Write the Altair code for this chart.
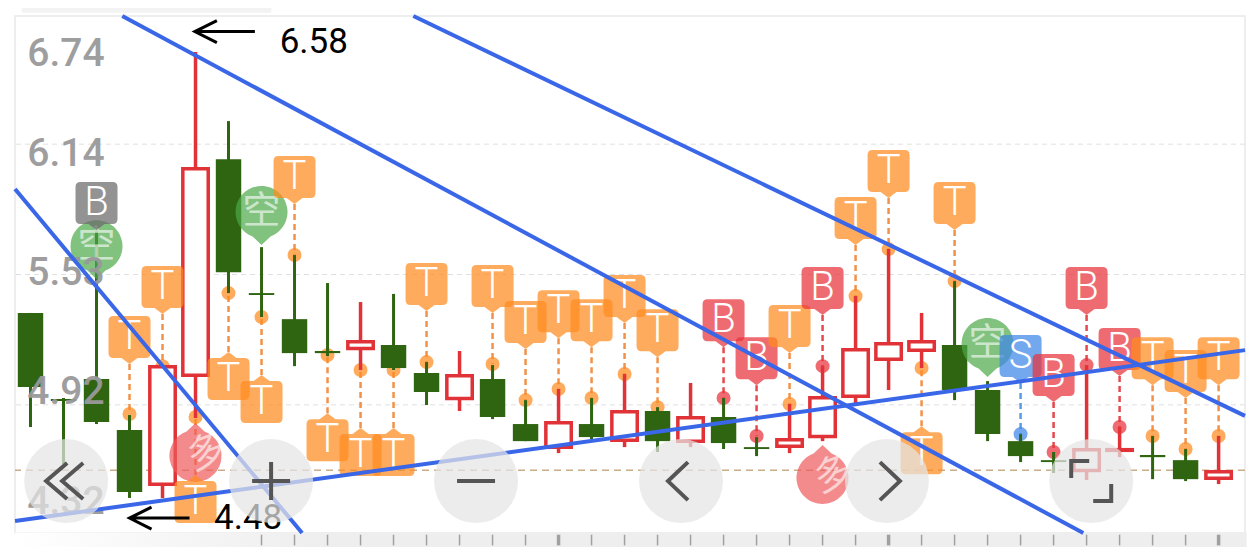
import altair as alt
import pandas as pd

# candles
high = [5.350,4.952,5.729,4.872,5.106,6.571,6.248,5.658,5.621,5.490,5.401,5.439,5.120,5.172,5.106,4.942,4.994,4.952,5.064,4.909,5.022,4.952,4.769,4.924,5.101,5.429,5.649,5.350,5.499,5.031,4.783,4.699,5.106,4.816,4.774,4.713,4.774]
body_top = [5.350,4.947,5.041,4.802,5.106,6.033,6.070,5.443,5.321,5.172,5.223,5.200,5.069,5.064,5.041,4.830,4.844,4.830,4.895,4.891,4.867,4.863,4.722,4.764,4.961,5.186,5.214,5.223,5.200,4.989,4.750,4.661,4.718,4.718,4.685,4.661,4.615]
body_bottom = [5.003,4.938,4.839,4.512,4.540,5.050,5.541,5.434,5.162,5.162,5.176,5.092,4.980,4.942,4.863,4.750,4.713,4.769,4.746,4.750,4.741,4.741,4.713,4.718,4.764,4.952,5.125,5.167,4.989,4.783,4.680,4.652,4.605,4.699,4.675,4.572,4.568]
low = [4.816,4.643,4.830,4.484,4.484,4.858,5.443,5.331,5.101,5.148,5.083,5.083,4.919,4.891,4.853,4.750,4.694,4.760,4.722,4.699,4.722,4.713,4.680,4.694,4.750,4.928,4.989,5.092,4.942,4.750,4.652,4.601,4.568,4.675,4.572,4.563,4.549]
rising = [0,0,0,0,1,1,0,0,0,0,1,0,0,1,0,0,1,0,1,0,1,0,0,1,1,1,1,1,0,0,0,0,1,1,0,0,1]

# signal pins
pin_kind = ["G","T","T","T","T","T","T","T","T","T","T","T","T","T","T","T","T","B","B","T","B","T","T","T","T","S","B","B","B","T","T","T"]
pin_i = [2,3,4,5,6,7,8,9,10,11,12,14,15,16,17,18,19,21,22,23,24,25,26,27,28,30,31,32,33,34,35,36]
pin_tip = [5.738,5.111,5.345,4.591,5.167,5.059,5.860,4.881,4.811,4.811,5.359,5.350,5.181,5.232,5.190,5.303,5.143,5.190,5.012,5.162,5.340,5.668,5.888,4.820,5.738,5.022,4.933,5.340,5.055,5.012,4.952,5.012]
pin_dot = [5.729,4.877,5.101,4.863,5.443,5.331,5.621,5.153,5.083,5.083,5.120,5.111,4.942,4.994,4.952,5.064,4.909,4.952,4.774,4.924,5.101,5.429,5.649,5.092,5.499,4.783,4.699,5.106,4.816,4.774,4.713,4.774]
pin_up = [5, 6, 7, 9, 10, 11, 27]

# round signals
sig_text = ["空", "空", "空", "多", "多"]
sig_i = [2, 7, 29, 5, 24]
sig_tip = [5.508, 5.668, 5.050, 4.835, 4.732]

# scale and reference levels
y_labels = ["6.74", "6.14", "5.53", "4.92", "4.32"]
y_label_pos = [6.562, 6.094, 5.537, 4.980, 4.465]
grid_levels = [6.14, 5.53, 4.92]
last_level = [4.614]

# trend lines
tl_x1 = [2.78, 11.6, -0.47, -0.47]
tl_y1 = [6.74, 6.74, 5.930, 4.376]
tl_x2 = [31.9, 36.8, 8.23, 36.8]
tl_y2 = [4.32, 4.868, 4.32, 5.176]

# overlay buttons
btn_name = ["first", "plus", "minus", "prev", "next", "full"]
btn_i = [1.08, 7.29, 13.5, 19.71, 25.95, 32.14]
btn_y = [4.563] * 6

XD = [-0.47, 36.8]
YD = [4.32, 6.74]
xs = alt.Scale(domain=XD, nice=False, zero=False)
ys = alt.Scale(domain=YD, nice=False, zero=False)
X = lambda f: alt.X(f, type="quantitative", scale=xs, axis=None)
Y = lambda f: alt.Y(f, type="quantitative", scale=ys, axis=None)

RED, GREEN = "#e03237", "#2f6410"
C = pd.DataFrame(dict(i=range(37), high=high, top=body_top, bot=body_bottom, low=low, up=rising))
C["l"] = C.i - 0.385
C["r"] = C.i + 0.385
C["t2"] = C.top - 0.008
C["b2"] = C.bot + 0.008
C["col"] = C.up.map({1: RED, 0: GREEN})
colr = alt.Color("col:N", scale=None)

P = pd.DataFrame(dict(kind=pin_kind, i=pin_i, tip=pin_tip, dot=pin_dot))
P["dir"] = ["u" if i in pin_up else "d" for i in pin_i]
P["lab"] = P.kind.replace({"G": "B"})
fills = {"T": "#ff8a1f", "B": "#e8333a", "S": "#3f87e8", "G": "#6a6a6a"}
dash = {"T": "#f2914a", "B": "#e5484d", "S": "#5a9be8", "G": "#777777"}
P["fill"] = P.kind.map(fills)
P["dash"] = P.kind.map(dash)

PD = "M0,0L-8,-6L-16,-6Q-21,-6-21,-11L-21,-43Q-21,-48-16,-48L16,-48Q21,-48 21,-43L21,-11Q21,-6 16,-6L8,-6Z"
PU = "M0,0L-8,6L-16,6Q-21,6-21,11L-21,43Q-21,48-16,48L16,48Q21,48 21,43L21,11Q21,6 16,6L8,6Z"
CD = "M0,0L-9,-8.6A26,26 0 1 1 9,-8.6Z"
CU = "M0,0L-9,8.6A26,26 0 1 0 9,8.6Z"

layers = []
# top tab, bottom strip
layers.append(alt.Chart(pd.DataFrame(dict(a=[-0.27], b=[7.3], c=[6.777], d=[6.755]))).mark_rect(color="#f3f3f3", cornerRadiusBottomLeft=4, cornerRadiusBottomRight=4).encode(x=X("a"), x2="b", y=Y("c"), y2="d"))
layers.append(alt.Chart(pd.DataFrame(dict(a=[-0.47], b=[36.85], c=[4.322], d=[4.254]))).mark_rect(
    fill=alt.Gradient(gradient="linear", x1=0, x2=1, y1=0, y2=0,
                      stops=[alt.GradientStop(color="#ffffff", offset=0), alt.GradientStop(color="#eeeeee", offset=0.25), alt.GradientStop(color="#eeeeee", offset=1)])
).encode(x=X("a"), x2="b", y=Y("c"), y2="d"))
T = pd.DataFrame(dict(i=list(range(7, 37))))
T["a"] = 4.312
T["b"] = 4.262
T["w"] = [3.5 if i in (16, 26, 36) else 1.5 for i in T.i]
layers.append(alt.Chart(T).mark_rule(color="#a0a0a0").encode(x=X("i"), y=Y("a"), y2="b", strokeWidth=alt.StrokeWidth("w:Q", scale=None)))
# grid
layers.append(alt.Chart(pd.DataFrame(dict(v=grid_levels))).mark_rule(color="#e0e0e0", strokeWidth=1, strokeDash=[5, 4]).encode(y=Y("v")))
layers.append(alt.Chart(pd.DataFrame(dict(v=last_level))).mark_rule(color="#c9ac88", strokeWidth=1.5, strokeDash=[7, 5]).encode(y=Y("v")))
# dash + dots
layers.append(alt.Chart(P).mark_rule(strokeWidth=2.5, strokeDash=[6, 4]).encode(x=X("i"), y=Y("tip"), y2="dot", color=alt.Color("dash:N", scale=None)))
layers.append(alt.Chart(P[P.kind != "G"]).mark_circle(size=196, opacity=0.72).encode(x=X("i"), y=Y("dot"), color=alt.Color("fill:N", scale=None)))
# candles
layers.append(alt.Chart(C[C.up == 0]).mark_rule(strokeWidth=3).encode(x=X("i"), y=Y("high"), y2="low", color=colr))
layers.append(alt.Chart(C[C.up == 1]).mark_rule(strokeWidth=3.5).encode(x=X("i"), y=Y("high"), y2="low", color=colr))
layers.append(alt.Chart(C[C.up == 0]).mark_rect(color=GREEN).encode(x=X("l"), x2="r", y=Y("top"), y2="bot"))
layers.append(alt.Chart(C[C.up == 1]).mark_rect(fill="#ffffff", stroke=RED, strokeWidth=3.5).encode(x=X("l"), x2="r", y=Y("t2"), y2="b2"))

# round signals first
S = pd.DataFrame(dict(t=sig_text, i=sig_i, tip=sig_tip))
for txt, path, fill, dy, ang in [("空", CD, "#4ca848", -33, 0), ("多", CU, "#ee5a5b", 33, 340)]:
    d = S[S.t == txt]
    layers.append(alt.Chart(d).mark_point(shape=path, size=4, filled=True, fill=fill, opacity=0.7, stroke=None).encode(x=X("i"), y=Y("tip")))
    layers.append(alt.Chart(d).mark_text(font="Noto Sans CJK SC", fontSize=38, color="#ffffff", opacity=0.6, dy=dy, angle=ang, baseline="middle").encode(x=X("i"), y=Y("tip"), text="t:N"))
# pins
for dr, path, dy in [("d", PD, -27), ("u", PU, 27)]:
    d = P[P.dir == dr]
    layers.append(alt.Chart(d).mark_point(shape=path, size=4, filled=True, opacity=0.72, stroke=None).encode(x=X("i"), y=Y("tip"), fill=alt.Fill("fill:N", scale=None)))
    layers.append(alt.Chart(d).mark_text(font="Roboto", fontWeight=300, fontSize=40, color="#ffffff", dy=dy, baseline="middle").encode(x=X("i"), y=Y("tip"), text="lab:N"))

# price labels
L = pd.DataFrame(dict(t=y_labels, y=y_label_pos, x=[-0.1] * 5))
layers.append(alt.Chart(L).mark_text(font="Roboto", fontWeight=500, fontSize=39, color="#999999", opacity=0.95, align="left", baseline="middle").encode(x=X("x"), y=Y("y"), text="t:N"))

# trend lines
TL = pd.DataFrame(dict(a=tl_x1, b=tl_y1, c=tl_x2, d=tl_y2, n=range(4)))
layers.append(alt.Chart(TL).mark_rule(color="#3a66e8", strokeWidth=4).encode(x=X("a"), y=Y("b"), x2="c", y2="d", detail="n:N"))

# high / low annotations
ARROW = "M22,-11L0,0L22,11M0,0L60,0"
AR = pd.DataFrame(dict(i=[4.98, 3.0], y=[6.667, 4.390]))
layers.append(alt.Chart(AR).mark_point(shape=ARROW, size=4, filled=False, stroke="#000000", strokeWidth=3, opacity=1).encode(x=X("i"), y=Y("y")))
AT = pd.DataFrame(dict(t=["6.58", "4.48"], i=[7.55, 5.56], y=[6.619, 4.390]))
layers.append(alt.Chart(AT).mark_text(font="Roboto", fontSize=35, color="#000000", align="left", baseline="middle").encode(x=X("i"), y=Y("y"), text="t:N"))

# buttons
B = pd.DataFrame(dict(n=btn_name, i=btn_i, y=btn_y))
layers.append(alt.Chart(B).mark_circle(size=7056, color="#e4e4e4", opacity=0.72).encode(x=X("i"), y=Y("y")))
icons = ["M1,-18L-20,0L1,18M17,-18L-4,0L17,18", "M-19,0L19,0M0,-19L0,19", "M-19,0L19,0", "M7,-19L-13,0L7,19", "M-7,-19L13,0L-7,19", "M-2,-20L-20,-20L-20,-3M2,20L20,20L20,3"]
layers.append(alt.Chart(B).mark_point(size=4, filled=False, stroke="#555555", strokeWidth=4, opacity=1).encode(
    x=X("i"), y=Y("y"), shape=alt.Shape("n:N", scale=alt.Scale(domain=btn_name, range=icons), legend=None)))

chart = alt.layer(*layers).properties(
    width=1230, height=517,
    padding={"left": 7, "top": 8, "right": 7, "bottom": 14},
    autosize=alt.AutoSizeParams(type="none"),
    background="#ffffff",
).configure_view(stroke="#eeeeee", strokeWidth=2)

chart.save("out.html", embed_options={"renderer": "svg", "actions": False})
